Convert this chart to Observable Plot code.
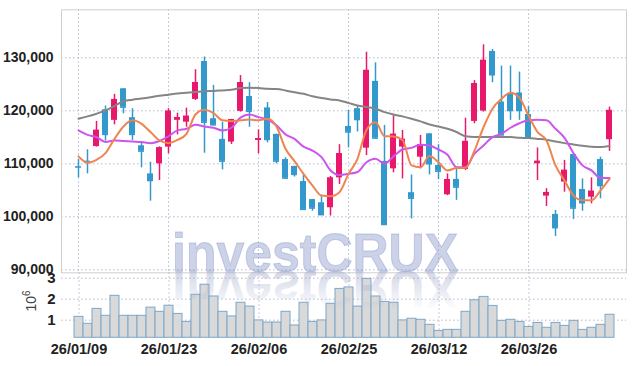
<!DOCTYPE html>
<html><head><meta charset="utf-8">
<script src="https://cdn.jsdelivr.net/npm/d3@7"></script>
<script src="https://cdn.jsdelivr.net/npm/@observablehq/plot@0.6"></script>
<style>
html,body{margin:0;padding:0;background:#fff;}
#chart{position:relative;width:634px;height:366px;overflow:hidden;background:#fff;}
#chart svg{position:absolute;left:0;top:0;}
</style></head><body><div id="chart"></div>
<script>
const dates = ["26/01/09","26/01/12","26/01/13","26/01/14","26/01/15","26/01/16","26/01/19","26/01/20","26/01/21","26/01/22",
"26/01/23","26/01/26","26/01/27","26/01/28","26/01/29","26/01/30","26/02/02","26/02/03","26/02/04","26/02/05",
"26/02/06","26/02/09","26/02/10","26/02/11","26/02/12","26/02/13","26/02/19","26/02/20","26/02/23","26/02/24",
"26/02/25","26/02/26","26/02/27","26/03/03","26/03/04","26/03/05","26/03/06","26/03/09","26/03/10","26/03/11",
"26/03/12","26/03/13","26/03/16","26/03/17","26/03/18","26/03/19","26/03/20","26/03/23","26/03/24","26/03/25",
"26/03/26","26/03/27","26/03/30","26/03/31","26/04/01","26/04/02","26/04/03","26/04/06","26/04/07","26/04/08"];
const open  = [109450,110500,113250,120200,118200,124150,118700,113400,108100,110000,
113150,118200,117850,122150,129300,118500,114600,114100,119900,122700,
114400,120550,115550,110800,109500,106650,103250,102650,101700,107350,
117050,120400,112950,125550,110450,109050,113150,104550,111250,115650,
109700,104150,107050,108950,118000,119950,131200,121650,123200,123350,
119300,110000,103900,100450,106550,111750,105150,103700,110800,114550];
const close = [109400,110300,116300,115550,122100,120700,115550,112400,106850,113000,
119900,118700,118950,125300,117850,117350,110500,118300,125300,119900,
114700,114600,110500,107300,108000,101400,101650,100400,107300,111900,
116000,118350,127600,114850,98550,115550,114600,103500,113600,110000,
108600,107000,105600,114200,125100,129500,126800,115450,120050,120050,
114900,110450,104550,97950,108750,101650,102650,104800,105900,120050];
const high  = [110800,112650,118000,120900,123100,124200,120400,114050,110300,113200,
120400,119550,120500,127750,130150,124800,117850,118400,126650,125300,
116400,121550,115600,111150,109550,107900,103300,104050,107600,113600,
120050,120800,131050,129050,117250,119100,116300,107900,115350,115700,
113600,108100,109350,118600,125700,132450,131550,128450,128450,127300,
120800,113000,105300,101200,110650,111800,107150,107350,111250,120700];
const low   = [107350,108100,113150,114300,117350,119450,114400,109250,102950,106850,
111900,115450,116900,121950,112000,117200,108850,113650,119750,116900,
111900,113950,110000,107150,107500,101200,101050,100250,100150,106100,
113000,116000,111550,114700,98400,108300,107150,99600,109050,107900,
107000,104000,103100,108750,117550,119750,125300,115300,118200,118200,
114700,106850,101950,96300,104650,99500,101050,102450,103400,112350];
const ma5  = [111400,110200,110750,112000,114700,117050,118200,117550,116000,114400,
113900,114500,115650,119300,120200,119550,118200,118050,118200,118350,
118200,118500,117050,112850,110500,108100,105900,104000,103900,104650,
108100,110950,116400,117850,115200,115150,114500,109700,109350,111450,
110300,108750,109200,109250,112500,116900,120400,122250,123400,122450,
119100,116000,114400,109700,106850,104000,103100,103100,104950,107150];
const ma20 = [116300,115450,115050,114100,114400,114300,114200,114100,113900,114300,
115200,116300,116600,117350,117050,116800,116300,116800,118700,119300,
118800,118350,117250,115550,114700,113250,112500,111250,108750,107900,
108100,108450,110300,110950,110000,111400,112700,113000,113600,113450,
112700,111700,109350,109350,111900,113450,115050,115650,116800,117650,
118200,118300,118200,116600,114900,112000,109700,108750,107350,107300];
const ma60 = [118500,118950,119450,120050,120900,121800,122100,122300,122550,122850,
123050,123250,123400,123550,123700,123750,123850,123950,124300,124350,
124300,124150,124100,123850,123500,123200,122750,122400,122150,121950,
121500,121000,120700,120400,119750,119300,118950,118500,118000,117400,
117050,116600,116000,115200,115050,115050,115050,115050,115050,114900,
114850,114700,114550,114200,113900,113650,113400,113200,113150,113350];
const volume = [1.16,0.83,1.54,1.21,2.16,1.21,1.21,1.21,1.60,1.40,
1.69,1.30,0.92,2.21,2.69,2.13,1.40,1.18,1.83,1.65,
0.99,0.89,0.89,1.40,0.75,1.83,0.92,0.99,1.78,2.49,
2.56,1.65,2.97,2.13,1.87,1.83,0.99,1.07,1.02,0.78,
0.49,0.54,0.54,1.40,1.95,2.11,1.68,0.97,1.02,0.92,
0.68,0.87,0.64,0.87,0.73,0.97,0.54,0.64,0.78,1.26];
const xTicks = ["26/01/09","26/01/23","26/02/06","26/02/25","26/03/12","26/03/26"];
const priceTicks = [90000,100000,110000,120000,130000];
const volTicks = [1,2,3];
const watermark = "investCRUX";
const volUnit = ["10","6"];

const PINK = "#e8196b", BLUE = "#3399cc";
const FONT = '"Liberation Sans",Arial,sans-serif';
const rows = dates.map((d,i)=>({date:d, open:open[i], close:close[i], high:high[i], low:low[i],
  ma5:ma5[i], ma20:ma20[i], ma60:ma60[i], volume:volume[i],
  col: close[i] > open[i] ? PINK : BLUE}));

const W = 634, H = 366;
const grid = {stroke:"#b5b9d0", strokeOpacity:1, strokeWidth:1, strokeDasharray:"1.5,2.5"};
const style = {fontFamily:FONT, fontSize:"15px", fontWeight:"bold", color:"#222", background:"transparent", overflow:"visible"};
const axisText = {tickSize:0, fill:"#222", label:null, fontWeight:"bold"};

const main = Plot.plot({
  width:W, height:H, marginLeft:61, marginRight:8, marginTop:9.3, marginBottom:H-272.3,
  style,
  x:{type:"band", domain:dates, paddingInner:0.3, paddingOuter:0.15, axis:null, label:null},
  y:{domain:[89434,139057], axis:null, label:null},
  color:{type:"identity"},
  marks:[
    Plot.gridY(priceTicks, grid),
    Plot.gridX(xTicks, grid),
    Plot.frame({stroke:"#cfcfcf", strokeWidth:1}),
    Plot.axisY(priceTicks, {...axisText, fontSize:14, tickPadding:8, tickFormat:d3.format(",")}),
    Plot.ruleX(rows, {x:"date", y1:"low", y2:"high", stroke:"col", strokeWidth:1.5}),
    Plot.barY(rows, {x:"date", y1:"open", y2:"close", fill:"col"}),
    Plot.tickY(rows, {x:"date", y:"close", stroke:"col", strokeWidth:1.5}),
    Plot.line(rows, {x:"date", y:"ma60", stroke:"#858585", strokeWidth:2, curve:"monotone-x"}),
    Plot.line(rows, {x:"date", y:"ma20", stroke:"#cc55ee", strokeWidth:2, curve:"monotone-x"}),
    Plot.line(rows, {x:"date", y:"ma5", stroke:"#ef8450", strokeWidth:2, curve:"monotone-x"})
  ]
});

const vol = Plot.plot({
  width:W, height:H, marginLeft:61, marginRight:8, marginTop:272.3, marginBottom:H-337.3,
  style,
  x:{type:"band", domain:dates, padding:0, axis:null, label:null},
  y:{domain:[0.162,3.257], clamp:true, axis:null, label:null},
  marks:[
    Plot.gridY(volTicks, grid),
    Plot.gridX(xTicks, grid),
    Plot.barY(rows, {x:"date", y:"volume", fill:"#d9d9d9", stroke:"#7da7c8", strokeWidth:1}),
    Plot.axisY(volTicks, {...axisText, fontSize:15, tickPadding:6}),
    Plot.axisX(xTicks, {...axisText, fontSize:14.5, tickPadding:6})
  ]
});

const chart = document.getElementById("chart");
chart.appendChild(main);
chart.appendChild(vol);

// unit label 10^6
const ul = d3.select(vol).append("text").attr("transform","translate(36,301) rotate(-90)")
  .attr("text-anchor","middle").attr("fill","#444")
  .style("font-family",FONT).style("font-weight","normal").style("font-size","14px");
ul.append("tspan").text(volUnit[0]);
ul.append("tspan").attr("dy","-6").style("font-size","10px").text(volUnit[1]);

// watermark with reflection
const wm = d3.create("svg").attr("width",W).attr("height",H);
const defs = wm.append("defs");
const g = defs.append("linearGradient").attr("id","wmfade").attr("x1",0).attr("y1",0).attr("x2",0).attr("y2",1);
g.append("stop").attr("offset","0.15").attr("stop-color","#9aa2c8").attr("stop-opacity",0);
g.append("stop").attr("offset","0.8").attr("stop-color","#9aa2c8").attr("stop-opacity",0.42);
const wmBase = 271, wmX = 172, wmLen = 286;
wm.append("text").attr("x",wmX).attr("y",wmBase).attr("textLength",wmLen).attr("lengthAdjust","spacingAndGlyphs")
  .style("font-family",FONT).style("font-weight","bold").style("font-size","54px")
  .attr("fill","#8f9ccc").attr("fill-opacity",0.45).attr("stroke","#8f9ccc").attr("stroke-opacity",0.45).attr("stroke-width",1)
  .text(watermark);
wm.append("text").attr("x",wmX).attr("y",wmBase).attr("textLength",wmLen).attr("lengthAdjust","spacingAndGlyphs")
  .attr("transform",`translate(0,${2*wmBase}) scale(1,-1)`)
  .style("font-family",FONT).style("font-weight","bold").style("font-size","54px")
  .attr("fill","url(#wmfade)").text(watermark);
chart.appendChild(wm.node());
</script></body></html>
